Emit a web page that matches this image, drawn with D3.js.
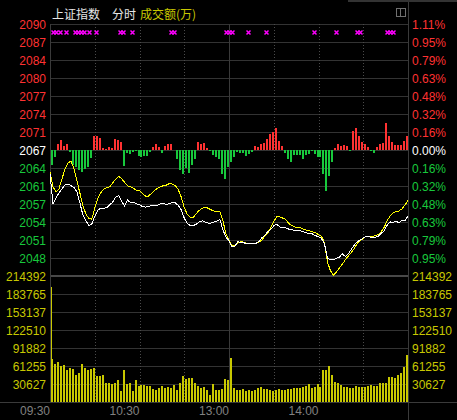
<!DOCTYPE html>
<html>
<head>
<meta charset="utf-8">
<script src="https://cdn.jsdelivr.net/npm/d3@7"></script>
<style>
html, body { margin: 0; padding: 0; background: #000; }
svg { display: block; }
text { font-family: "Liberation Sans", Arial, sans-serif; font-size: 12px; }
.cjk { font-family: "Noto Sans CJK SC", sans-serif; }
</style>
</head>
<body>
<svg id="chart" width="457" height="420"></svg>
<script>
// ---- data: Shanghai Composite intraday, one sample every 2 minutes ----
const prevClose = 2067.3;
const maxPct = 0.0111;

const priceLabels = ["2090","2087","2084","2080","2077","2074","2071","2067","2064","2061","2057","2054","2051","2048"];
const pctLabels = ["1.11%","0.95%","0.79%","0.63%","0.48%","0.32%","0.16%","0.00%","0.16%","0.32%","0.48%","0.63%","0.79%","0.95%"];
const volumeLabels = ["214392","183765","153137","122510","91882","61255","30627"];
const volumeMax = 214392;

const timeTickMinutes = [0, 60, 120, 180];
const timeTickLabels = ["09:30", "10:30", "13:00", "14:00"];
const dottedMinutes = [30, 60, 90, 150, 180, 210];
const sessionBreak = 120;

// index (white)
const indexLine = [2062.9,2057.5,2058.6,2059.5,2060.2,2060.9,2061.1,2060.8,2060.5,2059.7,
2057.7,2055.5,2054.5,2053.5,2053.8,2055.2,2056.3,2056.7,2056.7,2056.8,
2057.3,2057.8,2058.7,2059.0,2058.0,2057.1,2058.2,2057.7,2057.8,2057.5,
2057.3,2057.0,2056.9,2057.0,2057.2,2057.2,2057.2,2057.5,2057.6,2057.3,
2057.6,2057.7,2057.7,2057.2,2056.4,2054.9,2054.0,2053.5,2053.5,2053.8,
2054.2,2054.4,2054.2,2054.0,2054.0,2054.2,2054.4,2054.6,2052.7,2051.4,
2050.8,2049.7,2049.8,2050.6,2050.4,2050.4,2050.2,2050.3,2050.3,2050.3,
2050.6,2051.3,2051.8,2052.4,2052.8,2053.5,2053.8,2053.3,2053.1,2053.1,
2052.9,2052.8,2052.6,2052.7,2052.6,2052.4,2052.2,2052.1,2052.0,2051.7,
2051.5,2051.2,2050.2,2047.6,2047.3,2047.3,2047.6,2047.8,2048.4,2047.9,
2048.4,2049.2,2050.0,2050.6,2050.9,2051.3,2051.6,2051.5,2051.3,2051.4,
2051.6,2052.1,2052.6,2053.6,2054.2,2054.1,2054.4,2054.0,2054.5,2054.4,
2055.3];

// unweighted index (yellow)
const leadLine = [2063.3,2060.6,2059.7,2060.2,2062.0,2063.8,2064.9,2065.3,2064.0,2061.7,
2059.5,2057.2,2055.7,2054.8,2054.7,2056.7,2058.5,2059.5,2060.2,2060.4,
2060.6,2061.3,2062.0,2062.5,2062.1,2061.4,2060.8,2060.6,2060.3,2060.0,
2059.9,2059.4,2058.9,2058.9,2059.4,2059.9,2060.3,2060.6,2060.8,2060.9,
2061.2,2061.1,2060.8,2060.1,2058.7,2056.8,2055.6,2055.0,2055.0,2055.7,
2056.3,2056.7,2056.9,2056.7,2056.4,2056.2,2056.1,2056.0,2054.3,2052.0,
2050.8,2049.9,2049.9,2050.4,2050.6,2050.5,2050.3,2050.2,2050.2,2050.3,
2050.5,2050.9,2051.6,2052.2,2053.2,2054.3,2055.1,2055.1,2054.9,2054.7,
2053.9,2053.6,2053.3,2053.2,2053.1,2052.9,2052.7,2052.6,2052.4,2052.2,
2051.9,2051.6,2050.4,2046.9,2045.3,2044.5,2045.1,2045.8,2046.5,2047.3,
2048.0,2048.6,2049.4,2050.3,2050.8,2051.2,2051.6,2051.6,2051.5,2051.7,
2051.9,2052.4,2053.2,2054.4,2055.3,2055.8,2056.1,2056.2,2056.6,2057.3,
2058.1];

// turnover (万), first entry is the opening auction
const turnover = [196200,72650,64140,68050,60740,62440,54950,58360,56650,46450,
49340,65160,58360,53930,56650,58360,43720,43720,45430,32840,
32330,31130,32330,36920,18200,53930,30110,32330,18200,37940,
26710,28410,28410,26710,26710,22630,20930,24330,26710,24330,
25520,24330,28410,20930,32330,43720,39640,41340,41340,32330,
26710,24330,25520,20930,11400,30110,20930,19900,22630,39640,
36920,74350,23310,20420,20420,21610,19230,20420,19230,20420,
23310,26030,21610,21610,20420,19230,20420,21610,20420,20420,
21610,22630,23310,23310,23310,26030,27220,30620,23310,25010,
30620,26030,54440,54440,61250,45940,34540,31810,28920,26030,
25010,23310,23310,27220,26030,25010,26030,27220,28410,27220,
27730,31810,32840,32840,43040,43040,40320,45940,48830,60060,
79960];

// buy/sell strength bars (red up, green down), one per 2-minute step
const strength = [-15,-7,6.5,10.3,4,6,-2.3,-15,-17,-20,
-22.3,-19,-17,-8,13.7,13.7,12,2.5,1,3.5,
1.7,11,10,8,-15.7,-3,-4,-2.3,-1,-5.7,
-6.5,-6,-6.3,-2.3,2.7,6,3,-3,4.3,6.5,
6,0.5,-9,-20,-24,-18,-23,-15,-9,8,
5.7,7.3,2,-1,-5,-6.7,-8.5,-24,-28.5,-17.3,
-12,-7,-2.3,-3,-3,-5.7,-4,-2.3,4.3,3.5,
6,7.5,11,16,17.7,22,9,4.3,-3,-9,
-12.3,-5,-5,-5,-9,-5,-4,-1,-4,-7,
-6.5,-24,-40.7,-26,-12,2,6,4.3,5.5,4,
-0.7,19.3,21.7,14.3,8,6,2.7,-1,-3,3,
6,7,27,14,8,5,5.5,5,9,13.7];

// minutes of big-order signals
const signalMinutes = [2,4,7,11,17,19,21,23,26,31,47,49,55,81,83,118,120,122,133,145,177,192,206,208,226,228,230];

// ---- layout ----
const W = 457, H = 420;
const left = 50, right = 408;
const mainTop = 24, mainBottom = 276, volBottom = 402;

const RED = "#ff3232", GREEN = "#18c83c", YEL = "#c8c800", GRID = "#333333";

const svg = d3.select("#chart");
svg.append("rect").attr("width", W).attr("height", H).attr("fill", "#000");

const x = d3.scaleLinear().domain([0, 240]).range([left, right]);
const y = d3.scaleLinear()
  .domain([prevClose * (1 - maxPct), prevClose * (1 + maxPct)])
  .range([mainBottom, mainTop]);
const yVol = d3.scaleLinear().domain([0, volumeMax]).range([volBottom, mainBottom]);
const y0 = y(prevClose);
const yStrength = d3.scaleLinear().domain([-1, 1]).range([y0 + 1, y0 - 1]);

const steps = d3.range(7, -7, -1); // grid steps from +7 to -6
const stepValue = k => prevClose * (1 + k * maxPct / 7);
const stepColor = k => k > 0 ? RED : (k < 0 ? GREEN : "#ffffff");

const grid = svg.append("g").attr("shape-rendering", "crispEdges");

// horizontal price grid
steps.forEach(k => {
  const yy = Math.round(y(stepValue(k))) + 0.5;
  grid.append("line").attr("x1", left).attr("x2", right).attr("y1", yy).attr("y2", yy)
    .attr("stroke", GRID);
});
// volume grid
volumeLabels.forEach((lab, j) => {
  const v = volumeMax - j * volumeMax / 7;
  const yy = Math.round(yVol(v)) + 0.5;
  if (j > 0) grid.append("line").attr("x1", left).attr("x2", right).attr("y1", yy).attr("y2", yy)
    .attr("stroke", GRID);
});
// separator between price and volume panes
grid.append("line").attr("x1", left).attr("x2", right).attr("y1", mainBottom).attr("y2", mainBottom)
  .attr("stroke", "#484848").attr("stroke-width", 2);
// bottom line
grid.append("line").attr("x1", 0).attr("x2", W).attr("y1", volBottom + 0.5).attr("y2", volBottom + 0.5)
  .attr("stroke", "#3a3a3a");
// vertical time grid
dottedMinutes.forEach(m => {
  const xx = Math.round(x(m)) + 0.5;
  grid.append("line").attr("x1", xx).attr("x2", xx).attr("y1", mainTop).attr("y2", volBottom)
    .attr("stroke", "#4a4a4a").attr("stroke-dasharray", "1,2");
});
{
  const xx = Math.round(x(sessionBreak)) + 0.5;
  grid.append("line").attr("x1", xx).attr("x2", xx).attr("y1", mainTop).attr("y2", volBottom)
    .attr("stroke", "#3a3a3a");
}
// frame
grid.append("line").attr("x1", left + 0.5).attr("x2", left + 0.5).attr("y1", mainTop).attr("y2", volBottom)
  .attr("stroke", "#3a3a3a");
grid.append("line").attr("x1", right + 0.5).attr("x2", right + 0.5).attr("y1", 0).attr("y2", H)
  .attr("stroke", "#3a3a3a");
grid.append("rect").attr("x", 348).attr("y", 0).attr("width", W - 348).attr("height", 2)
  .attr("fill", "#333");

// axis labels
const labels = svg.append("g");
steps.forEach((k, j) => {
  const yy = y(stepValue(k)) + 4.5;
  labels.append("text").attr("x", 46).attr("y", yy).attr("text-anchor", "end")
    .attr("fill", stepColor(k)).text(priceLabels[j]);
  labels.append("text").attr("x", 412).attr("y", yy)
    .attr("fill", stepColor(k)).text(pctLabels[j]);
});
volumeLabels.forEach((lab, j) => {
  const v = volumeMax - j * volumeMax / 7;
  const yy = yVol(v) + 4.5;
  labels.append("text").attr("x", 46).attr("y", yy).attr("text-anchor", "end").attr("fill", YEL).text(lab);
  labels.append("text").attr("x", 412).attr("y", yy).attr("fill", YEL).text(lab);
});
timeTickMinutes.forEach((m, j) => {
  labels.append("text").attr("x", x(m)).attr("y", 415).attr("text-anchor", "end")
    .attr("fill", "#808080").text(timeTickLabels[j]);
});

// header
labels.append("text").attr("class", "cjk").attr("x", 52).attr("y", 18.5).attr("fill", "#e6e6e6").text("上证指数");
labels.append("text").attr("class", "cjk").attr("x", 112).attr("y", 18.5).attr("fill", "#e6e6e6").text("分时");
labels.append("text").attr("class", "cjk").attr("x", 140).attr("y", 18.5).attr("fill", YEL).text("成交额(万)");
// window toggle icon
const icon = svg.append("g").attr("shape-rendering", "crispEdges").attr("stroke", "#707070").attr("fill", "none");
icon.append("rect").attr("x", 396.5).attr("y", 8.5).attr("width", 9).attr("height", 8);
icon.append("line").attr("x1", 400.5).attr("x2", 400.5).attr("y1", 8.5).attr("y2", 16.5);

// strength bars
svg.append("g").attr("shape-rendering", "crispEdges")
  .selectAll("rect").data(strength).join("rect")
  .attr("x", (d, i) => Math.round(x(2 * (i + 1))) - 2)
  .attr("width", 2)
  .attr("y", d => d >= 0 ? yStrength(d) : y0)
  .attr("height", d => Math.abs(yStrength(d) - y0))
  .attr("fill", d => d >= 0 ? RED : GREEN);

// turnover bars
svg.append("g").attr("shape-rendering", "crispEdges")
  .selectAll("rect").data(turnover).join("rect")
  .attr("x", (d, i) => i === 0 ? Math.round(x(0)) + 1 : Math.round(x(2 * i)) - 2)
  .attr("width", (d, i) => i === 0 ? 1 : 2)
  .attr("y", d => yVol(d))
  .attr("height", d => volBottom - yVol(d))
  .attr("fill", YEL);

// price lines
const line = d3.line().x((d, i) => x(2 * i)).y(d => y(d));
svg.append("path").datum(leadLine).attr("d", line)
  .attr("fill", "none").attr("stroke", "#ffff00").attr("stroke-width", 1)
  .attr("shape-rendering", "crispEdges");
svg.append("path").datum(indexLine).attr("d", line)
  .attr("fill", "none").attr("stroke", "#ffffff").attr("stroke-width", 1)
  .attr("shape-rendering", "crispEdges");

// signal markers
svg.append("g").selectAll("path").data(signalMinutes).join("path")
  .attr("transform", m => `translate(${Math.round(x(m)) + 0.5},32.5)`)
  .attr("d", "M-2,-2L2,2M-2,2L2,-2")
  .attr("stroke", "#ff00ff").attr("stroke-width", 1.5).attr("fill", "none");
</script>
</body>
</html>
